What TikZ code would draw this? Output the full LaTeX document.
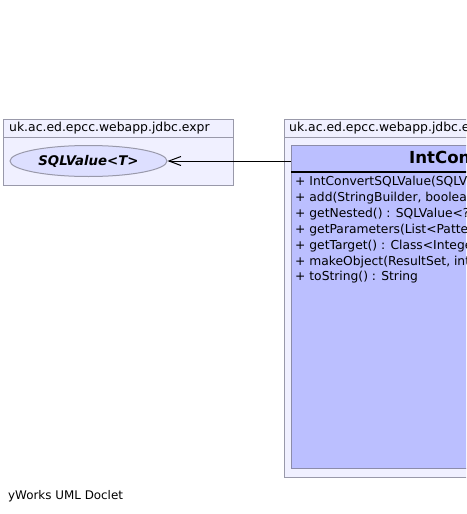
\documentclass[tikz,border=0pt]{standalone}
\usepackage{fontspec}
\setmainfont{DejaVu Sans}
\usetikzlibrary{arrows.meta,shapes.geometric}
\definecolor{pkgfill}{RGB}{240,240,255}
\definecolor{pkgline}{RGB}{153,153,170}
\definecolor{clsfill}{RGB}{187,191,255}
\definecolor{clsline}{RGB}{140,140,170}
\definecolor{ellfill}{RGB}{221,223,255}
\tikzset{
  pkgbox/.style={draw=pkgline, fill=pkgfill, line width=1pt},
  pkglabel/.style={anchor=west, inner sep=0pt, font=\fontsize{12.4}{14}\selectfont},
  member/.style={anchor=west, inner sep=0pt, font=\fontsize{12.3}{14}\selectfont},
}
\begin{document}
\begin{tikzpicture}[x=1pt,y=-1pt]
\useasboundingbox (0,0) rectangle (466,514);
\clip (0,0) rectangle (466,514);
% left package
\draw[pkgbox] (3,119) rectangle (233,185);
\draw[pkgline, line width=1pt] (3,137) -- (233,137);
\node[pkglabel] (lpl) at (9,128) {uk.ac.ed.epcc.webapp.jdbc.expr};
\node[draw=pkgline, fill=ellfill, ellipse, minimum width=157pt, minimum height=31pt, inner sep=0pt, line width=1pt,
  font=\fontsize{13.3}{15}\selectfont\bfseries\itshape] (sv) at (88.5,161) {SQLValue<T>};
% right package
\draw[pkgbox] (284,119) rectangle (700,477);
\draw[pkgline, line width=1pt] (284,137) -- (700,137);
\node[pkglabel] (rpl) at (289,128) {uk.ac.ed.epcc.webapp.jdbc.expr};
% class
\node[draw=clsline, fill=clsfill, line width=1pt, rectangle, anchor=north west, minimum width=400pt, minimum height=323pt, inner sep=0pt] (cls) at (291,145) {};
\draw[black, line width=2pt] (291,172) -- (691,172);
\node[anchor=west, inner sep=0pt, font=\fontsize{16.6}{19}\selectfont\bfseries] (title) at (409,158.5) {IntConvertSQLValue};
\node[member] (m1) at (295,182) {+ IntConvertSQLValue(SQLValue<? extends Number>)};
\node[member] (m2) at (295,198) {+ add(StringBuilder, boolean) : StringBuilder};
\node[member] (m3) at (295,214) {+ getNested() : SQLValue<? extends Number>};
\node[member] (m4) at (295,230) {+ getParameters(List<PatternArgument>) : List<PatternArgument>};
\node[member] (m5) at (295,246) {+ getTarget() : Class<Integer>};
\node[member] (m6) at (295,262) {+ makeObject(ResultSet, int) : Integer};
\node[member] (m7) at (295,277.5) {+ toString() : String};
% connector
\coordinate (cl) at (cls.north west |- sv.east);
\draw[-{Straight Barb[length=12pt,width=9pt]}, line width=1pt] (cl) -- (sv.east);
% footer
\node[anchor=west, inner sep=0pt, font=\fontsize{11.9}{14}\selectfont] (foot) at (8,496) {yWorks UML Doclet};
\end{tikzpicture}
\end{document}
